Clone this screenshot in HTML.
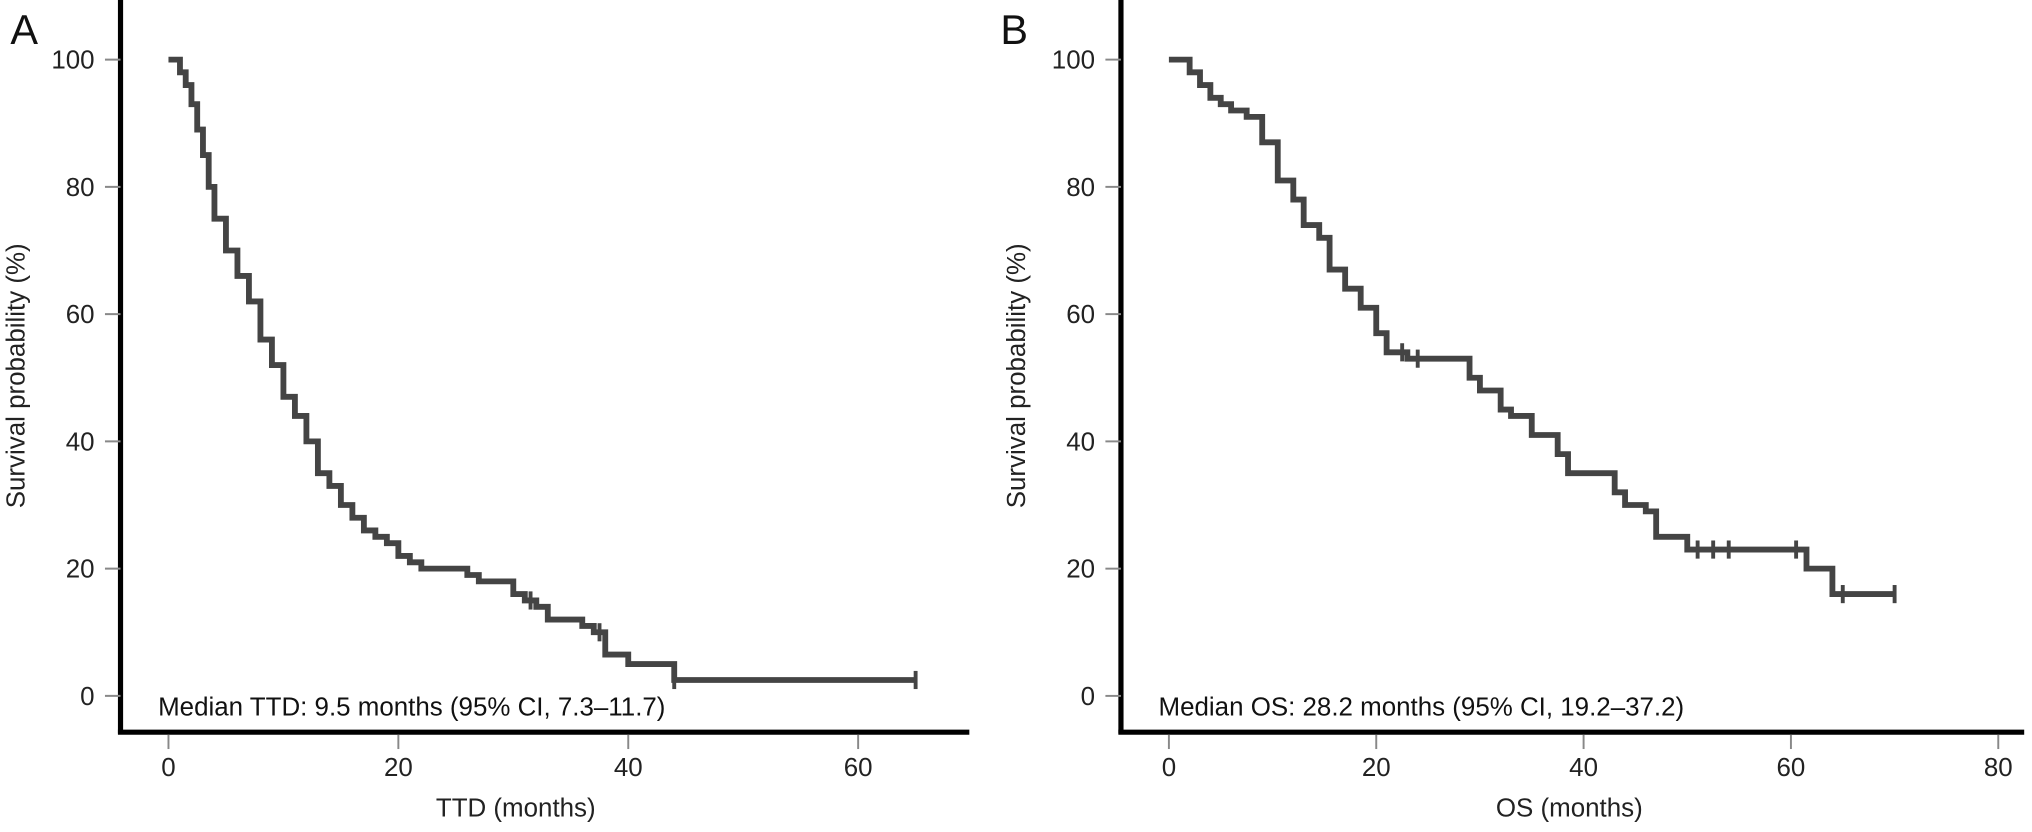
<!DOCTYPE html>
<html><head><meta charset="utf-8">
<style>
html,body{margin:0;padding:0;background:#fff;}
svg{display:block;font-family:"Liberation Sans",Arial,sans-serif;}
</style></head>
<body>
<svg id="chart" width="2032" height="832" viewBox="0 0 2032 832"><g id="root" transform="scale(1.2959)"></g></svg>
<script>
// Panel A data (TTD)
const timesA = [0,0.5,1,1.5,2,2.5,3,3.5,4,5,6,7,8,9,10,11,12,13,14,15,16,17,18,19,20,21,22,24,26,27,29,30,31,32,33,35,36,37,38,40,44,65];
const survA  = [100,100,98,96,93,89,85,80,75,70,66,62,56,52,47,44,40,35,33,30,28,26,25,24,22,21,20,20,19,18,18,16,15,14,12,12,11,10,6.5,5,2.5,2.5];
const censorA = [65,44,37.5,31.5];
const xTicksA = [0,20,40,60];
// Panel B data (OS)
const timesB = [0,0.8,2,3,4,5,6,7.5,9,10.5,12,13,14.5,15.5,17,18.5,20,21,23,26,29,30,32,33,35,37.5,38.5,43,44,46,47,50,61.5,64,70];
const survB  = [100,100,98,96,94,93,92,91,87,81,78,74,72,67,64,61,57,54,53,53,50,48,45,44,41,38,35,32,30,29,25,23,20,16,16];
const censorB = [70,65,60.5,54,52.5,51,24,22.5];
const xTicksB = [0,20,40,60,80];
const yTicks = [0,20,40,60,80,100];

const NS="http://www.w3.org/2000/svg";
const svg=document.getElementById('root');
function el(tag,attrs,parent){const e=document.createElementNS(NS,tag);for(const k in attrs)e.setAttribute(k,attrs[k]);(parent||svg).appendChild(e);return e;}

function panel(cfg){
  const g=el('g',{});
  
  
  const xs=t=>cfg.x0+t*cfg.pxm;
  const ys=p=>537-p*4.91;
  const ya=el('line',{x1:cfg.axX,y1:0,x2:cfg.axX,y2:566,stroke:'#000','stroke-width':4},g);
  
  const xa=el('line',{x1:cfg.axX-2,y1:565,x2:cfg.axEnd,y2:565,stroke:'#000','stroke-width':4},g);
  
  yTicks.forEach(v=>{
    const tk=el('line',{x1:cfg.axX-12,y1:ys(v),x2:cfg.axX,y2:ys(v),stroke:'#888','stroke-width':1.5},g);
    
    const t=el('text',{x:cfg.axX-20,y:ys(v)+7,'text-anchor':'end','font-size':20,fill:'#222'},g);
    t.textContent=v;
    
  });
  cfg.xTicks.forEach(v=>{
    const tk=el('line',{x1:xs(v),y1:567,x2:xs(v),y2:578,stroke:'#888','stroke-width':1.5},g);
    
    const t=el('text',{x:xs(v),y:599,'text-anchor':'middle','font-size':20,fill:'#222'},g);
    t.textContent=v;
    
  });
  let d='M'+xs(cfg.times[0])+','+ys(cfg.surv[0]);
  for(let i=1;i<cfg.times.length;i++){
    d+=' H'+xs(cfg.times[i])+' V'+ys(cfg.surv[i]);
  }
  const p=el('path',{d:d,fill:'none',stroke:'#444','stroke-width':4.5,'stroke-linejoin':'miter'},g);
  
  cfg.censor.forEach(t=>{
    let s=cfg.surv[0];
    for(let i=0;i<cfg.times.length;i++){if(cfg.times[i]<=t)s=cfg.surv[i];}
    const c=el('line',{x1:xs(t),y1:ys(s)-7,x2:xs(t),y2:ys(s)+7,stroke:'#444','stroke-width':3},g);
    
  });
  const yl=el('text',{x:0,y:0,transform:'translate('+(cfg.axX-74)+',290) rotate(-90)','text-anchor':'middle','font-size':20,fill:'#222'},g);
  yl.textContent='Survival probability (%)';
  
  const xl=el('text',{x:cfg.xlX,y:630,'text-anchor':'middle','font-size':20,fill:'#222'},g);
  xl.textContent=cfg.xlabel;
  
  const an=el('text',{x:cfg.axX+29,y:552,'font-size':20,fill:'#111'},g);
  an.textContent=cfg.annot;
  
  const L=el('text',{x:cfg.letterX,y:34,'font-size':32,fill:'#111'},g);
  L.textContent=cfg.letter;
  
}
panel({name:'panel-a',x0:130,pxm:8.87,axX:93,axEnd:748,times:timesA,surv:survA,censor:censorA,xTicks:xTicksA,
  xlabel:'TTD (months)',xlX:398,annot:'Median TTD: 9.5 months (95% CI, 7.3\u201311.7)',letter:'A',letterX:8});
panel({name:'panel-b',x0:902,pxm:8.0,axX:865,axEnd:1562,times:timesB,surv:survB,censor:censorB,xTicks:xTicksB,
  xlabel:'OS (months)',xlX:1211,annot:'Median OS: 28.2 months (95% CI, 19.2\u201337.2)',letter:'B',letterX:772});
</script>
</body></html>
